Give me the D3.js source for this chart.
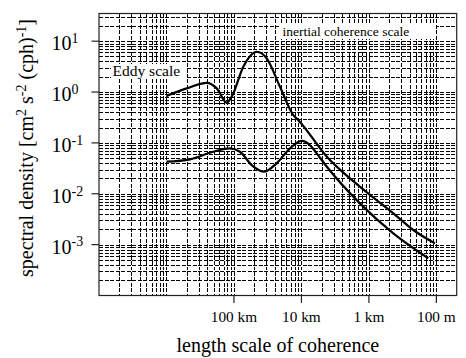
<!DOCTYPE html>
<html>
<head>
<meta charset="utf-8">
<script src="https://cdn.jsdelivr.net/npm/d3@7"></script>
<style>
  body { margin: 0; background: #fff; }
</style>
</head>
<body>
<div id="chart"></div>
<script>
// values: length scale (km) and spectral density
var eddyLength = [1000, 501, 253, 180, 128, 108, 72.7, 46, 32.7, 20.8, 13.2, 11.1, 4.2, 1.36, 0.435, 0.22, 0.105];
var eddyDensity = [0.84, 1.18, 1.52, 1.18, 0.62, 0.81, 3.15, 6.2, 4.6, 1.27, 0.353, 0.28, 0.0536, 0.0138, 0.00413, 0.00194, 0.00106];
var inertialLength = [1000, 448, 202, 115, 81.5, 54.6, 35.9, 23.3, 14.8, 9.9, 7.5, 5.94, 4.2, 1.36, 0.435, 0.132];
var inertialDensity = [0.0427, 0.0475, 0.067, 0.078, 0.067, 0.0367, 0.0272, 0.0397, 0.078, 0.110, 0.091, 0.0624, 0.034, 0.00648, 0.00167, 0.00054];

var xTickLengths = [100, 10, 1, 0.1];
var xTickLabels = ["100 km", "10 km", "1 km", "100 m"];
var yTickValues = [10, 1, 0.1, 0.01, 0.001];
var yTickExponents = ["1", "0", "-1", "-2", "-3"];

(function() {
  var W = 466, H = 358;
  var margin = {left: 99, right: 456.7, top: 13.5, bottom: 295.5};
  var serif = "Liberation Serif";

  var svg = d3.select("#chart").append("svg")
      .attr("width", W)
      .attr("height", H);

  function txt(sel) {
    return sel.style("font-family", serif).attr("fill", "#000");
  }

  // x is drawn in wavenumber (1/length), so the grid is log-spaced that way
  var x = d3.scaleLog().domain([1e-4, 20]).range([margin.left, margin.right]);
  var y = d3.scaleLog().domain([1e-4, 35]).range([margin.bottom, margin.top]);

  // grid lines
  var xGrid = [], yGrid = [];
  for (var e = -4; e <= 1; e++) {
    for (var m = 1; m <= 9; m++) {
      var v = m * Math.pow(10, e);
      if (v > 1e-4 * 1.001 && v < 20 * 0.999) xGrid.push(v);
      if (v > 1e-4 * 1.001 && v < 35 * 0.999) yGrid.push(v);
    }
  }

  var grid = svg.append("g")
      .attr("stroke", "#000")
      .attr("stroke-width", 1)
      .attr("shape-rendering", "crispEdges")
      .attr("stroke-dasharray", "4,1.5");

  grid.selectAll(".vg").data(xGrid).enter().append("line")
      .attr("x1", function(d) { return Math.round(x(d)) + 0.5; })
      .attr("x2", function(d) { return Math.round(x(d)) + 0.5; })
      .attr("y1", margin.top)
      .attr("y2", margin.bottom);

  grid.selectAll(".hg").data(yGrid).enter().append("line")
      .attr("x1", margin.left)
      .attr("x2", margin.right)
      .attr("y1", function(d) { return Math.round(y(d)) + 0.5; })
      .attr("y2", function(d) { return Math.round(y(d)) + 0.5; });

  // label boxes over the grid
  function boxLabel(tx, ty, str, size, bx, by, bw, bh) {
    svg.append("rect")
        .attr("x", bx).attr("y", by)
        .attr("width", bw).attr("height", bh)
        .attr("fill", "#fff");
    txt(svg.append("text"))
        .attr("x", tx).attr("y", ty)
        .style("font-size", size + "px")
        .text(str);
  }
  boxLabel(112.5, 76, "Eddy scale", 15.5, 111, 64, 75, 15);
  boxLabel(282.5, 36, "inertial coherence scale", 13.5, 281, 24, 155, 15);

  // curves
  var line = d3.line()
      .x(function(d) { return x(1 / d[0]); })
      .y(function(d) { return y(d[1]); })
      .curve(d3.curveMonotoneX);

  svg.append("path")
      .datum(d3.zip(eddyLength, eddyDensity))
      .attr("fill", "none")
      .attr("stroke", "#000")
      .attr("stroke-width", 2.2)
      .attr("d", line);

  svg.append("path")
      .datum(d3.zip(inertialLength, inertialDensity))
      .attr("fill", "none")
      .attr("stroke", "#000")
      .attr("stroke-width", 2.2)
      .attr("d", line);

  // frame
  svg.append("rect")
      .attr("x", margin.left).attr("y", margin.top)
      .attr("width", margin.right - margin.left)
      .attr("height", margin.bottom - margin.top)
      .attr("fill", "none")
      .attr("stroke", "#222")
      .attr("stroke-width", 1.2);

  // x ticks
  var xt = svg.append("g");
  xt.selectAll("line").data(xTickLengths).enter().append("line")
      .attr("x1", function(d) { return x(1 / d); })
      .attr("x2", function(d) { return x(1 / d); })
      .attr("y1", margin.bottom)
      .attr("y2", margin.bottom + 7.5)
      .attr("stroke", "#222")
      .attr("stroke-width", 1.2);
  txt(xt.selectAll("text").data(xTickLengths).enter().append("text"))
      .attr("x", function(d) { return x(1 / d); })
      .attr("y", 321.5)
      .attr("text-anchor", "middle")
      .style("font-size", "15.3px")
      .text(function(d, i) { return xTickLabels[i]; });

  // y ticks
  var yt = svg.append("g");
  yt.selectAll("line").data(yTickValues).enter().append("line")
      .attr("x1", margin.left - 7.5)
      .attr("x2", margin.left)
      .attr("y1", function(d) { return y(d); })
      .attr("y2", function(d) { return y(d); })
      .attr("stroke", "#222")
      .attr("stroke-width", 1.2);
  var ylab = txt(yt.selectAll("text").data(yTickValues).enter().append("text"))
      .attr("x", 51.5)
      .attr("y", function(d) { return y(d) + 9.3; })
      .style("font-size", "20px");
  ylab.append("tspan").text("10");
  ylab.append("tspan")
      .style("font-size", "14px")
      .attr("dy", -7.5)
      .text(function(d, i) { return yTickExponents[i]; });

  // axis titles
  txt(svg.append("text"))
      .attr("x", (margin.left + margin.right) / 2)
      .attr("y", 351.5)
      .attr("text-anchor", "middle")
      .style("font-size", "20px")
      .text("length scale of coherence");

  var yTitle = txt(svg.append("text"))
      .attr("transform", "translate(33,148) rotate(-90)")
      .attr("text-anchor", "middle")
      .style("font-size", "20px");
  var parts = [["spectral density [cm", 0], ["2", 1], [" s", 0], ["-2", 1], [" (cph)", 0], ["-1", 1], ["]", 0]];
  var prevSup = 0;
  parts.forEach(function(p) {
    var t = yTitle.append("tspan").text(p[0]);
    if (p[1]) t.style("font-size", "14px");
    if (p[1] && !prevSup) t.attr("dy", -7.5);
    if (!p[1] && prevSup) t.attr("dy", 7.5);
    prevSup = p[1];
  });
})();
</script>
</body>
</html>
